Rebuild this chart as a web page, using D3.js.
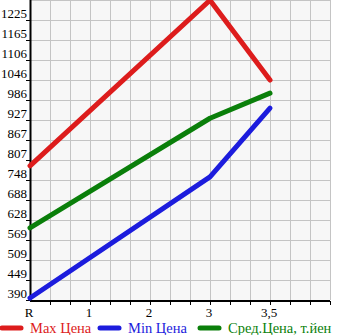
<!DOCTYPE html>
<html>
<head>
<meta charset="utf-8">
<script src="https://cdn.jsdelivr.net/npm/d3@7"></script>
<style>
  body { margin: 0; background: #fff; }
  svg text { font-family: "Liberation Serif", "DejaVu Serif", serif; }
</style>
</head>
<body>
<div id="graph"></div>
<script>
var categories = ['R', '1', '2', '3', '3,5', ''];
var maxValues = [790, null, null, 1284, 1046, null];
var minValues = [396, null, null, 757, 962, null];
var avgValues = [605, null, null, 932, 1007, null];
var yTicks = [390, 449, 509, 569, 628, 688, 748, 807, 867, 927, 986, 1046, 1106, 1165, 1225];

var width = 345,
    height = 335,
    plotLeft = 30,
    plotRight = 330,
    plotTop = 0,
    plotBottom = 300;

var svg = d3.select('#graph')
    .append('svg')
    .attr('width', width)
    .attr('height', height);

var x = d3.scalePoint()
    .domain(d3.range(categories.length))
    .range([plotLeft, plotRight]);

var y = d3.scaleLinear()
    .domain([390, 1284.6])
    .range([plotBottom, plotTop]);

// plot background
svg.append('rect')
    .attr('x', plotLeft)
    .attr('y', plotTop)
    .attr('width', plotRight - plotLeft)
    .attr('height', plotBottom - plotTop)
    .attr('fill', '#f7f7f7');

// grid: every 20px vertically, every y tick horizontally
var grid = svg.append('g')
    .attr('stroke', '#c4c4c4')
    .attr('stroke-width', 1);

d3.range(plotLeft + 20, plotRight + 1, 20).forEach(function(gx) {
    grid.append('line')
        .attr('x1', gx + 0.5).attr('x2', gx + 0.5)
        .attr('y1', plotTop).attr('y2', plotBottom);
});

yTicks.concat([1284.6]).forEach(function(v) {
    grid.append('line')
        .attr('x1', plotLeft).attr('x2', plotRight)
        .attr('y1', Math.round(y(v)) + 0.5)
        .attr('y2', Math.round(y(v)) + 0.5);
});

// y axis
svg.append('line')
    .attr('x1', plotLeft + 0.5).attr('x2', plotLeft + 0.5)
    .attr('y1', plotTop).attr('y2', plotBottom + 1)
    .attr('stroke', '#000')
    .attr('stroke-width', 2);

yTicks.forEach(function(v) {
    var ty = Math.round(y(v));
    svg.append('line')
        .attr('x1', plotLeft - 4).attr('x2', plotLeft)
        .attr('y1', ty + 0.5).attr('y2', ty + 0.5)
        .attr('stroke', '#000');
    svg.append('text')
        .attr('x', plotLeft - 3)
        .attr('y', ty - 2)
        .attr('text-anchor', 'end')
        .attr('font-size', 13)
        .attr('fill', '#000')
        .text(v);
});

// x axis
svg.append('line')
    .attr('x1', plotLeft).attr('x2', plotRight)
    .attr('y1', plotBottom + 1).attr('y2', plotBottom + 1)
    .attr('stroke', '#000')
    .attr('stroke-width', 2);

d3.range(plotLeft + 20, plotRight + 1, 20).forEach(function(gx) {
    svg.append('line')
        .attr('x1', gx + 0.5).attr('x2', gx + 0.5)
        .attr('y1', plotBottom + 1).attr('y2', plotBottom + 5)
        .attr('stroke', '#000');
});

categories.forEach(function(c, i) {
    svg.append('text')
        .attr('x', x(i) - 1)
        .attr('y', plotBottom + 17)
        .attr('text-anchor', 'middle')
        .attr('font-size', 13)
        .attr('fill', '#000')
        .text(c);
});

// series
var series = [
    { label: 'Max Цена', color: '#dd1c1c', values: maxValues, lx: 0 },
    { label: 'Min Цена', color: '#1c1cdd', values: minValues, lx: 98 },
    { label: 'Сред.Цена, т.йен', color: '#0a7f0a', values: avgValues, lx: 198 }
];

var line = d3.line()
    .x(function(d) { return x(d.i); })
    .y(function(d) { return y(d.v); });

series.forEach(function(s) {
    var pts = s.values
        .map(function(v, i) { return { i: i, v: v }; })
        .filter(function(d) { return d.v !== null; });
    svg.append('path')
        .attr('d', line(pts))
        .attr('fill', 'none')
        .attr('stroke', s.color)
        .attr('stroke-width', 5)
        .attr('stroke-linecap', 'round')
        .attr('stroke-linejoin', 'round');

    // legend
    svg.append('line')
        .attr('x1', s.lx + 2).attr('x2', s.lx + 21)
        .attr('y1', 328).attr('y2', 328)
        .attr('stroke', s.color)
        .attr('stroke-width', 5)
        .attr('stroke-linecap', 'round');
    svg.append('text')
        .attr('x', s.lx + 30)
        .attr('y', 333)
        .attr('font-size', 14.5)
        .attr('fill', s.color)
        .text(s.label);
});
</script>
</body>
</html>
